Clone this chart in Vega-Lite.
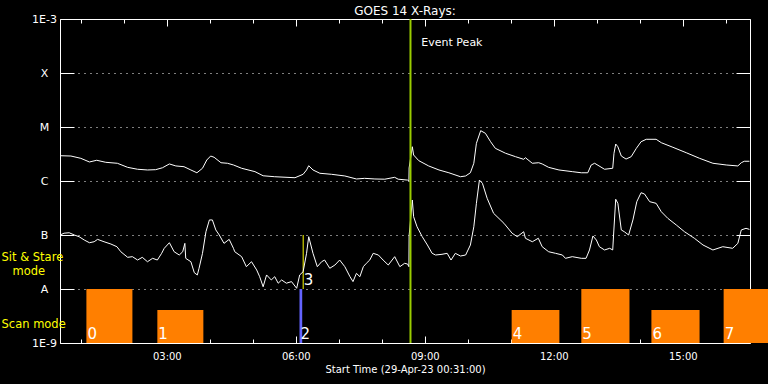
{
  "$schema": "https://vega.github.io/schema/vega-lite/v6.json",
  "width": 690,
  "height": 324,
  "autosize": {"type": "none"},
  "padding": {"left": 60, "top": 19, "right": 18, "bottom": 41},
  "background": "black",
  "title": {"text": "GOES 14 X-Rays:", "color": "white", "font": "DejaVu Sans", "fontSize": 12, "fontWeight": "normal", "anchor": "middle", "offset": -5},
  "config": {
    "view": {"stroke": null},
    "axis": {"domainColor": "white", "tickColor": "white", "labelColor": "white", "titleColor": "white", "labelFont": "DejaVu Sans", "titleFont": "DejaVu Sans", "titleFontWeight": "normal", "zindex": 1, "gridColor": "white", "gridOpacity": 1, "tickOpacity": 1, "domainOpacity": 1}
  },
  "datasets": {
    "long": [
      {"h":0.52,"flux":2.94e-6},{"h":0.77,"flux":2.90e-6},{"h":1.00,"flux":2.63e-6},{"h":1.20,"flux":2.25e-6},{"h":1.37,"flux":2.42e-6},{"h":1.58,"flux":2.22e-6},{"h":1.85,"flux":2.13e-6},{"h":2.09,"flux":1.79e-6},{"h":2.32,"flux":1.65e-6},{"h":2.55,"flux":1.60e-6},{"h":2.74,"flux":1.62e-6},{"h":2.90,"flux":1.76e-6},{"h":3.06,"flux":2.07e-6},{"h":3.21,"flux":1.90e-6},{"h":3.40,"flux":1.84e-6},{"h":3.56,"flux":1.60e-6},{"h":3.70,"flux":1.42e-6},{"h":3.83,"flux":1.72e-6},{"h":3.93,"flux":2.45e-6},{"h":4.02,"flux":2.90e-6},{"h":4.10,"flux":2.75e-6},{"h":4.26,"flux":2.18e-6},{"h":4.41,"flux":2.13e-6},{"h":4.55,"flux":1.98e-6},{"h":4.74,"flux":1.72e-6},{"h":5.05,"flux":1.49e-6},{"h":5.24,"flux":1.25e-6},{"h":5.51,"flux":1.20e-6},{"h":5.98,"flux":1.15e-6},{"h":6.17,"flux":1.33e-6},{"h":6.25,"flux":1.60e-6},{"h":6.30,"flux":1.92e-6},{"h":6.40,"flux":1.60e-6},{"h":6.56,"flux":1.39e-6},{"h":6.83,"flux":1.33e-6},{"h":7.14,"flux":1.24e-6},{"h":7.41,"flux":1.09e-6},{"h":7.60,"flux":1.12e-6},{"h":7.84,"flux":1.09e-6},{"h":8.07,"flux":1.08e-6},{"h":8.30,"flux":1.17e-6},{"h":8.38,"flux":1.08e-6},{"h":8.60,"flux":1.04e-6},{"h":8.63,"flux":1.00e-6},{"h":8.635,"flux":1.74e-6},{"h":8.71,"flux":4.31e-6},{"h":8.74,"flux":3.03e-6},{"h":8.86,"flux":2.38e-6},{"h":9.09,"flux":1.90e-6},{"h":9.33,"flux":1.60e-6},{"h":9.56,"flux":1.42e-6},{"h":9.83,"flux":1.20e-6},{"h":9.95,"flux":1.24e-6},{"h":10.06,"flux":1.42e-6},{"h":10.14,"flux":2.13e-6},{"h":10.20,"flux":4.99e-6},{"h":10.30,"flux":8.55e-6},{"h":10.41,"flux":7.64e-6},{"h":10.53,"flux":5.34e-6},{"h":10.64,"flux":4.03e-6},{"h":10.88,"flux":3.26e-6},{"h":11.11,"flux":2.82e-6},{"h":11.30,"flux":2.52e-6},{"h":11.34,"flux":2.70e-6},{"h":11.50,"flux":2.13e-6},{"h":11.65,"flux":2.18e-6},{"h":11.73,"flux":2.07e-6},{"h":11.88,"flux":1.79e-6},{"h":12.12,"flux":1.60e-6},{"h":12.43,"flux":1.49e-6},{"h":12.64,"flux":1.42e-6},{"h":12.79,"flux":1.42e-6},{"h":12.87,"flux":1.98e-6},{"h":12.95,"flux":2.13e-6},{"h":13.18,"flux":1.65e-6},{"h":13.37,"flux":1.72e-6},{"h":13.40,"flux":3.26e-6},{"h":13.44,"flux":4.84e-6},{"h":13.49,"flux":4.31e-6},{"h":13.57,"flux":2.90e-6},{"h":13.68,"flux":2.55e-6},{"h":13.80,"flux":2.82e-6},{"h":13.92,"flux":4.03e-6},{"h":14.03,"flux":5.34e-6},{"h":14.15,"flux":5.92e-6},{"h":14.38,"flux":5.92e-6},{"h":14.50,"flux":5.12e-6},{"h":14.77,"flux":4.21e-6},{"h":15.08,"flux":3.34e-6},{"h":15.39,"flux":2.63e-6},{"h":15.70,"flux":2.13e-6},{"h":16.01,"flux":1.98e-6},{"h":16.28,"flux":1.90e-6},{"h":16.36,"flux":2.18e-6},{"h":16.43,"flux":2.32e-6},{"h":16.55,"flux":2.32e-6}
    ],
    "short": [
      {"h":0.52,"flux":1.00e-7},{"h":0.61,"flux":1.08e-7},{"h":0.73,"flux":1.10e-7},{"h":0.85,"flux":1.00e-7},{"h":0.96,"flux":9.3e-8},{"h":1.08,"flux":8.08e-8},{"h":1.20,"flux":7.2e-8},{"h":1.31,"flux":7.5e-8},{"h":1.39,"flux":8.3e-8},{"h":1.54,"flux":7.5e-8},{"h":1.70,"flux":6.8e-8},{"h":1.84,"flux":6.07e-8},{"h":1.93,"flux":4.9e-8},{"h":2.09,"flux":3.86e-8},{"h":2.20,"flux":3.97e-8},{"h":2.32,"flux":3.44e-8},{"h":2.43,"flux":3.86e-8},{"h":2.55,"flux":3.2e-8},{"h":2.67,"flux":3.7e-8},{"h":2.78,"flux":3.44e-8},{"h":2.88,"flux":4.58e-8},{"h":2.94,"flux":5.67e-8},{"h":3.06,"flux":7.2e-8},{"h":3.17,"flux":4.9e-8},{"h":3.29,"flux":4.26e-8},{"h":3.37,"flux":4.9e-8},{"h":3.42,"flux":7.0e-8},{"h":3.44,"flux":3.7e-8},{"h":3.56,"flux":3.2e-8},{"h":3.64,"flux":2.0e-8},{"h":3.71,"flux":1.82e-8},{"h":3.75,"flux":2.42e-8},{"h":3.83,"flux":4.58e-8},{"h":3.91,"flux":1.15e-7},{"h":3.99,"flux":1.90e-7},{"h":4.06,"flux":1.90e-7},{"h":4.14,"flux":1.24e-7},{"h":4.22,"flux":1.00e-7},{"h":4.33,"flux":7.0e-8},{"h":4.45,"flux":8.3e-8},{"h":4.55,"flux":5.67e-8},{"h":4.58,"flux":4.9e-8},{"h":4.74,"flux":3.97e-8},{"h":4.85,"flux":2.59e-8},{"h":4.97,"flux":3.2e-8},{"h":5.09,"flux":2.25e-8},{"h":5.16,"flux":1.69e-8},{"h":5.24,"flux":1.10e-8},{"h":5.32,"flux":1.82e-8},{"h":5.43,"flux":1.47e-8},{"h":5.51,"flux":1.69e-8},{"h":5.59,"flux":1.28e-8},{"h":5.67,"flux":1.47e-8},{"h":5.78,"flux":1.28e-8},{"h":5.90,"flux":1.37e-8},{"h":6.02,"flux":1.03e-8},{"h":6.09,"flux":1.82e-8},{"h":6.17,"flux":2.09e-8},{"h":6.25,"flux":4.58e-8},{"h":6.30,"flux":9.3e-8},{"h":6.40,"flux":4.58e-8},{"h":6.50,"flux":2.59e-8},{"h":6.60,"flux":3.2e-8},{"h":6.67,"flux":3.44e-8},{"h":6.79,"flux":2.42e-8},{"h":6.91,"flux":2.78e-8},{"h":7.02,"flux":3.44e-8},{"h":7.14,"flux":2.59e-8},{"h":7.26,"flux":1.69e-8},{"h":7.33,"flux":1.37e-8},{"h":7.41,"flux":1.95e-8},{"h":7.49,"flux":1.69e-8},{"h":7.57,"flux":2.59e-8},{"h":7.64,"flux":2.99e-8},{"h":7.72,"flux":3.44e-8},{"h":7.80,"flux":4.58e-8},{"h":7.92,"flux":4.26e-8},{"h":8.03,"flux":3.44e-8},{"h":8.15,"flux":2.78e-8},{"h":8.30,"flux":3.97e-8},{"h":8.42,"flux":2.59e-8},{"h":8.53,"flux":2.99e-8},{"h":8.60,"flux":2.9e-8},{"h":8.63,"flux":2.59e-8},{"h":8.635,"flux":9.6e-8},{"h":8.71,"flux":4.45e-7},{"h":8.74,"flux":2.18e-7},{"h":8.82,"flux":1.42e-7},{"h":8.94,"flux":9.3e-8},{"h":9.06,"flux":6.53e-8},{"h":9.17,"flux":4.58e-8},{"h":9.25,"flux":4.26e-8},{"h":9.40,"flux":4.39e-8},{"h":9.52,"flux":4.58e-8},{"h":9.61,"flux":3.44e-8},{"h":9.71,"flux":4.58e-8},{"h":9.83,"flux":4.08e-8},{"h":9.95,"flux":4.26e-8},{"h":10.06,"flux":6.53e-8},{"h":10.14,"flux":1.42e-7},{"h":10.20,"flux":3.86e-7},{"h":10.27,"flux":1.04e-6},{"h":10.34,"flux":9.07e-7},{"h":10.45,"flux":4.78e-7},{"h":10.60,"flux":2.52e-7},{"h":10.84,"flux":1.65e-7},{"h":11.03,"flux":1.08e-7},{"h":11.15,"flux":9.3e-8},{"h":11.30,"flux":1.15e-7},{"h":11.34,"flux":8.7e-8},{"h":11.50,"flux":7.5e-8},{"h":11.64,"flux":8.7e-8},{"h":11.73,"flux":6.07e-8},{"h":11.88,"flux":4.9e-8},{"h":12.04,"flux":4.58e-8},{"h":12.20,"flux":4.26e-8},{"h":12.27,"flux":3.7e-8},{"h":12.43,"flux":3.97e-8},{"h":12.64,"flux":3.7e-8},{"h":12.75,"flux":3.7e-8},{"h":12.83,"flux":5.28e-8},{"h":12.91,"flux":9.6e-8},{"h":12.99,"flux":8.08e-8},{"h":13.06,"flux":6.07e-8},{"h":13.18,"flux":5.28e-8},{"h":13.30,"flux":5.67e-8},{"h":13.37,"flux":5.28e-8},{"h":13.39,"flux":1.00e-7},{"h":13.44,"flux":4.59e-7},{"h":13.49,"flux":3.86e-7},{"h":13.57,"flux":1.24e-7},{"h":13.64,"flux":1.15e-7},{"h":13.74,"flux":1.00e-7},{"h":13.84,"flux":1.90e-7},{"h":13.93,"flux":4.14e-7},{"h":14.03,"flux":6.07e-7},{"h":14.11,"flux":5.74e-7},{"h":14.23,"flux":4.14e-7},{"h":14.38,"flux":3.86e-7},{"h":14.50,"flux":2.70e-7},{"h":14.65,"flux":2.04e-7},{"h":14.85,"flux":1.53e-7},{"h":15.04,"flux":1.15e-7},{"h":15.27,"flux":8.7e-8},{"h":15.47,"flux":6.53e-8},{"h":15.70,"flux":5.28e-8},{"h":15.93,"flux":6.07e-8},{"h":16.16,"flux":5.67e-8},{"h":16.28,"flux":7.0e-8},{"h":16.36,"flux":1.24e-7},{"h":16.47,"flux":1.33e-7},{"h":16.55,"flux":1.27e-7}
    ],
    "bars": [
      {"n":"0","mode":"scan","start":1.13,"end":2.20,"bottom":1e-9,"top":1e-8},
      {"n":"1","mode":"scan","start":2.78,"end":3.85,"bottom":1e-9,"top":4.1e-9},
      {"n":"2","mode":"flare","start":6.086,"end":6.149,"bottom":1e-9,"top":1e-8},
      {"n":"3","mode":"stare","start":6.16,"end":6.183,"bottom":1e-8,"top":1e-7},
      {"n":"4","mode":"scan","start":11.02,"end":12.13,"bottom":1e-9,"top":4.1e-9},
      {"n":"5","mode":"scan","start":12.64,"end":13.76,"bottom":1e-9,"top":1e-8},
      {"n":"6","mode":"scan","start":14.27,"end":15.39,"bottom":1e-9,"top":4.1e-9},
      {"n":"7","mode":"scan","start":15.95,"end":17.0,"bottom":1e-9,"top":1e-8}
    ],
    "peak": [{"h":8.667,"label":"Event Peak","labelH":8.92,"labelFlux":3.59e-4}],
    "modes": [
      {"text":"Sit & Stare","h":-0.844,"flux":3.7e-8},
      {"text":"mode","h":-0.588,"flux":2.1e-8},
      {"text":"Scan mode","h":-0.844,"flux":2.2e-9}
    ]
  },
  "layer": [
    {
      "data": {"name": "bars"},
      "mark": {"type": "rect", "clip": false},
      "encoding": {
        "x": {"field": "start", "type": "quantitative", "scale": {"domain": [0.516, 16.563], "nice": false, "zero": false},
          "axis": {"orient": "bottom", "values": [1,2,3,4,5,6,7,8,9,10,11,12,13,14,15,16], "grid": false,
            "labelExpr": "datum.value % 3 === 0 ? (datum.value < 10 ? '0' : '') + datum.value + ':00' : ''",
            "tickSize": {"condition": {"test": "datum.value % 3 === 0", "value": -7}, "value": -4},
            "labelPadding": 15, "labelFontSize": 10, "labelFlush": false,
            "title": "Start Time (29-Apr-23 00:31:00)", "titleFontSize": 10, "titlePadding": 3}},
        "x2": {"field": "end"},
        "y": {"field": "bottom", "type": "quantitative", "scale": {"type": "log", "domain": [1e-9, 1e-3], "nice": false},
          "axis": {"orient": "left", "values": [1e-9,1e-8,1e-7,1e-6,1e-5,1e-4,1e-3], "grid": true, "gridDash": [1,5],
            "labelExpr": "datum.value < 3e-9 ? '1E-9' : datum.value < 3e-8 ? 'A' : datum.value < 3e-7 ? 'B' : datum.value < 3e-6 ? 'C' : datum.value < 3e-5 ? 'M' : datum.value < 3e-4 ? 'X' : '1E-3'",
            "tickSize": -14, "labelPadding": 30, "labelAlign": "center", "labelFontSize": 11, "labelFlush": false, "title": null}},
        "y2": {"field": "top"},
        "color": {"field": "mode", "type": "nominal", "scale": {"domain": ["scan","flare","stare"], "range": ["#ff7f00","#6464ff","#ffff00"]}, "legend": null}
      }
    },
    {
      "data": {"name": "bars"},
      "mark": {"type": "text", "align": "left", "baseline": "alphabetic", "dx": 1, "dy": -4, "font": "DejaVu Sans", "fontSize": 15, "color": "white", "clip": false},
      "encoding": {
        "x": {"field": "start", "type": "quantitative", "scale": {"domain": [0.516, 16.563], "nice": false, "zero": false}, "axis": null},
        "y": {"field": "bottom", "type": "quantitative", "scale": {"type": "log", "domain": [1e-9, 1e-3], "nice": false}, "axis": null},
        "text": {"field": "n"}
      }
    },
    {
      "data": {"name": "long"},
      "mark": {"type": "line", "color": "white", "strokeWidth": 1, "clip": true},
      "encoding": {
        "x": {"field": "h", "type": "quantitative", "scale": {"domain": [0.516, 16.563], "nice": false, "zero": false},
          "axis": {"orient": "top", "values": [1,2,3,4,5,6,7,8,9,10,11,12,13,14,15,16], "grid": false, "labels": false, "title": null,
            "tickSize": {"condition": {"test": "datum.value % 3 === 0", "value": -7}, "value": -4}}},
        "y": {"field": "flux", "type": "quantitative", "scale": {"type": "log", "domain": [1e-9, 1e-3], "nice": false},
          "axis": {"orient": "right", "values": [1e-9,1e-8,1e-7,1e-6,1e-5,1e-4,1e-3], "grid": false, "labels": false, "tickSize": -14, "title": null}}
      }
    },
    {
      "data": {"name": "short"},
      "mark": {"type": "line", "color": "white", "strokeWidth": 1, "clip": true},
      "encoding": {
        "x": {"field": "h", "type": "quantitative", "scale": {"domain": [0.516, 16.563], "nice": false, "zero": false}, "axis": null},
        "y": {"field": "flux", "type": "quantitative", "scale": {"type": "log", "domain": [1e-9, 1e-3], "nice": false}, "axis": null}
      }
    },
    {
      "data": {"name": "peak"},
      "mark": {"type": "rule", "color": "#99cc00", "strokeWidth": 2},
      "encoding": {
        "x": {"field": "h", "type": "quantitative", "scale": {"domain": [0.516, 16.563], "nice": false, "zero": false}, "axis": null}
      }
    },
    {
      "data": {"name": "peak"},
      "mark": {"type": "text", "align": "left", "baseline": "middle", "font": "DejaVu Sans", "fontSize": 11, "color": "white"},
      "encoding": {
        "x": {"field": "labelH", "type": "quantitative", "scale": {"domain": [0.516, 16.563], "nice": false, "zero": false}, "axis": null},
        "y": {"field": "labelFlux", "type": "quantitative", "scale": {"type": "log", "domain": [1e-9, 1e-3], "nice": false}, "axis": null},
        "text": {"field": "label"}
      }
    },
    {
      "data": {"name": "modes"},
      "mark": {"type": "text", "align": "left", "baseline": "middle", "font": "DejaVu Sans", "fontSize": 11.5, "color": "#ffff00", "clip": false},
      "encoding": {
        "x": {"field": "h", "type": "quantitative", "scale": {"domain": [0.516, 16.563], "nice": false, "zero": false}, "axis": null},
        "y": {"field": "flux", "type": "quantitative", "scale": {"type": "log", "domain": [1e-9, 1e-3], "nice": false}, "axis": null},
        "text": {"field": "text"}
      }
    }
  ],
  "resolve": {"axis": {"x": "independent", "y": "independent"}}
}
